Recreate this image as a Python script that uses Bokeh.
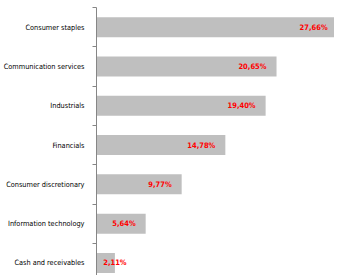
import numpy as np
from bokeh.plotting import figure
from bokeh.models import ColumnDataSource, Range1d, FixedTicker
from bokeh.core.properties import value
from bokeh.embed import file_html
from bokeh.resources import INLINE

categories = ["Cash and receivables", "Information technology", "Consumer discretionary",
              "Financials", "Industrials", "Communication services", "Consumer staples"]
weights = [2.11, 5.64, 9.77, 14.78, 19.40, 20.65, 27.66]
labels = ["2,11%", "5,64%", "9,77%", "14,78%", "19,40%", "20,65%", "27,66%"]

FONT = "DejaVu Sans Condensed"

pos = np.arange(len(categories))
src = ColumnDataSource(dict(y=pos, w=weights, lab=labels,
                            lx=[max(v, 4.6) for v in weights]))

H = 275
p = figure(width=334, height=H, output_backend="svg", toolbar_location=None,
           x_range=Range1d(0, 27.3), y_range=Range1d(6.5 - (H - 7) / 39.3, 6.5),
           min_border_left=86, min_border_right=0, min_border_top=7, min_border_bottom=0)
p.outline_line_color = None
p.xgrid.visible = False
p.ygrid.visible = False
p.xaxis.visible = False

p.hbar(y="y", left=0, right="w", height=0.51, source=src,
       fill_color="#BFBFBF", line_color=None)
p.text(x="lx", y="y", text="lab", source=src, text_align="right", text_baseline="middle",
       x_offset=-10, text_color="#FF0000", text_font=value(FONT), text_font_style="bold",
       text_font_size="7.5px")

ax = p.yaxis[0]
ax.ticker = FixedTicker(ticks=list(pos), minor_ticks=[i - 0.5 for i in range(len(pos) + 1)])
ax.major_label_overrides = {int(i): c for i, c in zip(pos, categories)}
ax.major_tick_out = 0
ax.major_tick_in = 0
ax.minor_tick_out = 4
ax.minor_tick_in = 0
ax.minor_tick_line_color = "#868686"
ax.axis_line_color = "#868686"
ax.major_label_text_font = FONT
ax.major_label_text_font_size = "7.3px"
ax.major_label_text_color = "#000000"
ax.major_label_standoff = 8

open("out.html", "w").write(file_html(p, INLINE))
